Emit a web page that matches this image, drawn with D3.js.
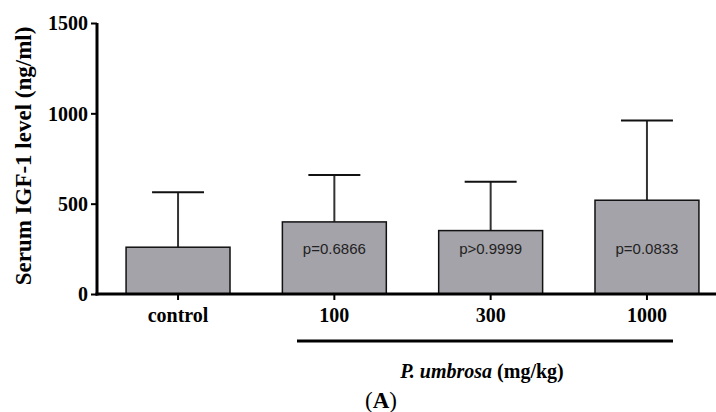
<!DOCTYPE html>
<html>
<head>
<meta charset="utf-8">
<script src="https://cdn.jsdelivr.net/npm/d3@7"></script>
<style>
  body { margin: 0; background: #fff; }
  svg { display: block; }
</style>
</head>
<body>
<script>
  "use strict";

  // data
  var groups = ["control", "100", "300", "1000"];
  var meanIGF = [259, 399, 351, 519];
  var sdIGF = [304, 260, 271, 441];
  var pLabels = ["", "p=0.6866", "p>0.9999", "p=0.0833"];
  var yTicks = [0, 500, 1000, 1500];

  var width = 716, height = 412;
  var serif = "'Liberation Serif', 'Times New Roman', serif";

  var svg = d3.select("body")
    .append("svg")
      .attr("width", width)
      .attr("height", height);

  var x = d3.scaleBand()
    .domain(groups)
    .range([97, 728])
    .paddingInner(0.335)
    .paddingOuter(0.186);

  var y = d3.scaleLinear()
    .domain([0, 1500])
    .range([294, 23]);

  var rows = groups.map(function(g, i) {
    return { group: g, mean: meanIGF[i], sd: sdIGF[i], p: pLabels[i] };
  });

  // error bars (upper only)
  var err = svg.append("g").attr("class", "errors");
  err.selectAll("line.stem")
    .data(rows)
    .enter().append("line")
      .attr("class", "stem")
      .attr("x1", function(d) { return x(d.group) + x.bandwidth() / 2; })
      .attr("x2", function(d) { return x(d.group) + x.bandwidth() / 2; })
      .attr("y1", function(d) { return y(d.mean); })
      .attr("y2", function(d) { return y(d.mean + d.sd); })
      .attr("stroke", "#333")
      .attr("stroke-width", 2);
  err.selectAll("line.cap")
    .data(rows)
    .enter().append("line")
      .attr("class", "cap")
      .attr("x1", function(d) { return x(d.group) + x.bandwidth() / 4; })
      .attr("x2", function(d) { return x(d.group) + x.bandwidth() * 3 / 4; })
      .attr("y1", function(d) { return y(d.mean + d.sd); })
      .attr("y2", function(d) { return y(d.mean + d.sd); })
      .attr("stroke", "#111")
      .attr("stroke-width", 2);

  // bars
  svg.append("g").selectAll("rect")
    .data(rows)
    .enter().append("rect")
      .attr("x", function(d) { return x(d.group); })
      .attr("y", function(d) { return y(d.mean); })
      .attr("width", x.bandwidth())
      .attr("height", function(d) { return y(0) - y(d.mean); })
      .attr("fill", "#a4a3a9")
      .attr("stroke", "#111")
      .attr("stroke-width", 1.5);

  // p-values inside bars
  svg.append("g").selectAll("text")
    .data(rows.filter(function(d) { return d.p; }))
    .enter().append("text")
      .attr("x", function(d) { return x(d.group) + x.bandwidth() / 2; })
      .attr("y", 254)
      .attr("text-anchor", "middle")
      .style("font-family", "'Liberation Sans', Arial, sans-serif")
      .style("font-size", "15px")
      .style("fill", "#222")
      .text(function(d) { return d.p; });

  // axes
  var yAxis = svg.append("g")
    .attr("transform", "translate(97,0)")
    .call(d3.axisLeft(y).tickValues(yTicks).tickFormat(d3.format("d"))
      .tickSize(6).tickSizeOuter(0).tickPadding(3));
  yAxis.select(".domain").attr("stroke-width", 3).attr("d", "M0," + (y(0) + 1.5) + "V" + y(1500));
  yAxis.selectAll(".tick line").attr("stroke-width", 2);
  yAxis.selectAll(".tick text")
    .style("font-family", serif)
    .style("font-weight", "bold")
    .style("font-size", "20px")
    .attr("dy", "0.34em");

  var xAxis = svg.append("g")
    .attr("transform", "translate(0,294)")
    .call(d3.axisBottom(x).tickSize(6).tickSizeOuter(0).tickPadding(8));
  xAxis.select(".domain").attr("stroke-width", 3).attr("d", "M95.5,0H716");
  xAxis.selectAll(".tick line").attr("stroke-width", 2);
  xAxis.selectAll(".tick text")
    .style("font-family", serif)
    .style("font-weight", "bold")
    .style("font-size", "20px");

  // group bracket under dosed groups
  svg.append("line")
    .attr("x1", 297).attr("x2", 673)
    .attr("y1", 341).attr("y2", 341)
    .attr("stroke", "#000")
    .attr("stroke-width", 3);

  var lab = svg.append("text")
    .attr("x", 482)
    .attr("y", 378)
    .attr("text-anchor", "middle")
    .style("font-family", serif)
    .style("font-weight", "bold")
    .style("font-size", "20px");
  lab.append("tspan").style("font-style", "italic").text("P. umbrosa");
  lab.append("tspan").text(" (mg/kg)");

  svg.append("text")
    .attr("x", 381)
    .attr("y", 408)
    .attr("text-anchor", "middle")
    .style("font-family", serif)
    .style("font-size", "23px")
    .html("(<tspan font-weight='bold'>A</tspan>)");

  // y title
  svg.append("text")
    .attr("transform", "translate(31,156) rotate(-90)")
    .attr("text-anchor", "middle")
    .style("font-family", serif)
    .style("font-weight", "bold")
    .style("font-size", "23px")
    .text("Serum IGF-1 level (ng/ml)");
</script>
</body>
</html>
